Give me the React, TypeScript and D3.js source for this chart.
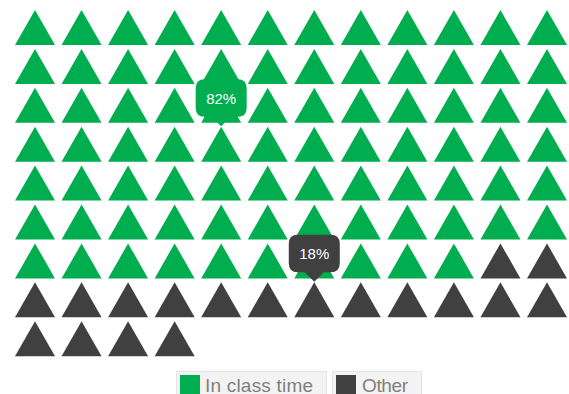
import React from "react";
import * as d3 from "d3";

// Share of time per activity, one pictogram mark per percentage point.
const categories = ["In class time", "Other"];
const shares = [82, 18];
const colours = ["#00ae50", "#404040"];
const columnCount = 12;
const rowCount = 9;
// Grid slot (column, row) that each callout points at.
const calloutSlots = [
  [4, 3],
  [6, 7],
];

const WIDTH = 569;
const HEIGHT = 394;

export default function App() {
  const x = d3.scalePoint<number>().domain(d3.range(columnCount)).range([35, 547]);
  const y = d3.scalePoint<number>().domain(d3.range(rowCount)).range([10, 321.2]);
  const halfBase = 20;
  const tall = 35;

  const triangle = d3.line<[number, number]>().curve(d3.curveLinearClosed);

  const kinds = categories.flatMap((_, i) => d3.range(shares[i]).map(() => i));
  const marks = kinds.map((kind, i) => {
    const col = i % columnCount;
    const row = Math.floor(i / columnCount);
    const cx = x(col)!;
    const top = y(row)!;
    return {
      kind,
      d: triangle([
        [cx, top],
        [cx + halfBase, top + tall],
        [cx - halfBase, top + tall],
      ])!,
    };
  });

  // Rounded box with a small pointer whose tip sits at (cx, tipY).
  const calloutPath = (cx: number, tipY: number) => {
    const w = 51;
    const h = 37.5;
    const r = 9;
    const p = 9.5;
    const l = cx - w / 2;
    const t = tipY - p - h;
    const path = d3.path();
    path.moveTo(l + r, t);
    path.lineTo(l + w - r, t);
    path.quadraticCurveTo(l + w, t, l + w, t + r);
    path.lineTo(l + w, t + h - r);
    path.quadraticCurveTo(l + w, t + h, l + w - r, t + h);
    path.lineTo(cx + p, t + h);
    path.lineTo(cx, tipY);
    path.lineTo(cx - p, t + h);
    path.lineTo(l + r, t + h);
    path.quadraticCurveTo(l, t + h, l, t + h - r);
    path.lineTo(l, t + r);
    path.quadraticCurveTo(l, t, l + r, t);
    path.closePath();
    return path.toString();
  };

  const legendBoxes = [
    { x: 176.5, w: 150, swatch: 180, text: 205, textWidth: 108 },
    { x: 332.5, w: 89, swatch: 336, text: 362, textWidth: 46 },
  ];

  return (
    <svg
      width={WIDTH}
      height={HEIGHT}
      style={{ position: "absolute", left: 0, top: 0, fontFamily: "'Liberation Sans', Arial, sans-serif" }}
    >
      <rect width={WIDTH} height={HEIGHT} fill="#fff" />
      {marks.map((m, i) => (
        <path key={i} d={m.d} fill={colours[m.kind]} />
      ))}
      {calloutSlots.map(([col, row], i) => {
        const cx = x(col)!;
        const tipY = y(row)! - 0.5;
        return (
          <g key={categories[i]}>
            <path d={calloutPath(cx, tipY)} fill={colours[i]} />
            <text x={cx} y={tipY - 22.5} textAnchor="middle" fontSize={15} fill="#fff">
              {shares[i]}%
            </text>
          </g>
        );
      })}
      {categories.map((name, i) => (
        <g key={name}>
          <rect
            x={legendBoxes[i].x}
            y={371.5}
            width={legendBoxes[i].w}
            height={30}
            fill="#f3f3f3"
            stroke="#e4e4e4"
          />
          <rect x={legendBoxes[i].swatch} y={375} width={20} height={25} fill={colours[i]} />
          <text
            x={legendBoxes[i].text}
            y={391.5}
            fontSize={19}
            fill="#808080"
            textLength={legendBoxes[i].textWidth}
          >
            {name}
          </text>
        </g>
      ))}
    </svg>
  );
}
